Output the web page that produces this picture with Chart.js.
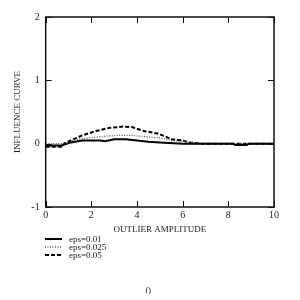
<!DOCTYPE html>
<html><head><meta charset="utf-8">
<script src="https://cdn.jsdelivr.net/npm/chart.js@4/dist/chart.umd.min.js"></script>
<style>html,body{margin:0;padding:0;background:#fff}#w{position:relative;width:300px;height:300px}</style>
</head><body><div id="w"><canvas id="c" width="300" height="300"></canvas></div>
<script>
const seriesLabels = ['eps=0.01', 'eps=0.025', 'eps=0.05'];
const xTicks = [0, 2, 4, 6, 8, 10];
const yTicks = [-1, 0, 1, 2];
const eps001 = [[0,-0.03],[0.7,-0.03],[1.1,0.02],[1.6,0.05],[2.4,0.05],[2.6,0.04],[3.0,0.07],[3.5,0.07],[4.0,0.05],[4.5,0.03],[5.0,0.02],[6.0,0.0],[8.2,0.0],[8.3,-0.02],[8.8,-0.02],[8.9,0.0],[10,0.0]];
const eps0025 = [[0,0.0],[1.0,0.0],[1.1,0.04],[1.6,0.08],[2.4,0.11],[3.1,0.13],[3.8,0.13],[4.4,0.11],[5.0,0.09],[5.5,0.05],[6.2,0.03],[6.8,0.0],[10,0.0]];
const eps005 = [[0,-0.05],[0.7,-0.05],[0.8,0.0],[1.1,0.05],[1.6,0.13],[2.2,0.2],[2.8,0.25],[3.4,0.27],[3.8,0.26],[4.3,0.2],[4.9,0.16],[5.2,0.12],[5.5,0.07],[6.0,0.05],[6.3,0.02],[6.8,0.0],[10,0.0]];
const caption = 'f)';
const xTitle = 'OUTLIER AMPLITUDE';
const yTitle = 'INFLUENCE CURVE';

const FONT = "'Liberation Serif', 'DejaVu Serif', serif";
const toPts = a => a.map(p => ({x:p[0], y:p[1]}));

const framePlugin = {
  id:'frame',
  afterDatasetsDraw(chart){
    const {ctx, chartArea:a, scales:{x,y}} = chart;
    ctx.save();
    ctx.strokeStyle = '#111';
    ctx.lineWidth = 1.5;
    ctx.setLineDash([]);
    ctx.strokeRect(a.left, a.top, a.right-a.left, a.bottom-a.top);
    ctx.lineWidth = 1;
    const L = 6;
    ctx.beginPath();
    xTicks.forEach(v => { const px = Math.round(x.getPixelForValue(v))+0.5;
      ctx.moveTo(px, a.bottom); ctx.lineTo(px, a.bottom-L);
      ctx.moveTo(px, a.top); ctx.lineTo(px, a.top+L); });
    yTicks.forEach(v => { const py = Math.round(y.getPixelForValue(v))+0.5;
      ctx.moveTo(a.left, py); ctx.lineTo(a.left+L, py);
      ctx.moveTo(a.right, py); ctx.lineTo(a.right-L, py); });
    ctx.stroke();
    // legend
    ctx.font = "9px " + FONT;
    ctx.textBaseline = 'middle';
    chart.data.datasets.forEach((d,i) => {
      const ly = 239 + i*8;
      ctx.strokeStyle = d.borderColor; ctx.lineWidth = d.borderWidth;
      ctx.setLineDash(d.borderDash || []);
      ctx.beginPath(); ctx.moveTo(45, ly); ctx.lineTo(62, ly); ctx.stroke();
      ctx.setLineDash([]);
      ctx.fillStyle = '#222';
      ctx.fillText(d.label, 69, ly + 1);
    });
    ctx.font = "9px " + FONT;
    ctx.textAlign = 'center';
    ctx.fillText(caption, 148, 291);
    ctx.restore();
  }
};

new Chart(document.getElementById('c'), {
  type:'line',
  data:{datasets:[
    {label:seriesLabels[0], data:toPts(eps001), borderColor:'#000', borderWidth:2, borderDash:[], pointRadius:0, fill:false, tension:0},
    {label:seriesLabels[1], data:toPts(eps0025), borderColor:'#555', borderWidth:1.3, borderDash:[1,1.5], pointRadius:0, fill:false, tension:0},
    {label:seriesLabels[2], data:toPts(eps005), borderColor:'#000', borderWidth:2, borderDash:[4,2], pointRadius:0, fill:false, tension:0}
  ]},
  options:{
    responsive:false, animation:false,
    layout:{padding:{left:0, top:17, right:26, bottom:65}},
    plugins:{legend:{display:false}, tooltip:{enabled:false}},
    scales:{
      x:{type:'linear', min:0, max:10,
        afterFit(s){ s.height = 28; },
        grid:{display:false, drawTicks:false}, border:{display:false},
        ticks:{stepSize:2, padding:2, color:'#222', font:{family:FONT, size:10}, maxRotation:0},
        title:{display:true, text:xTitle, color:'#222', font:{family:FONT, size:9}, padding:{top:1, bottom:0}}},
      y:{type:'linear', min:-1, max:2,
        afterFit(s){ s.width = 45.7; },
        grid:{display:false, drawTicks:false}, border:{display:false},
        ticks:{stepSize:1, padding:6, color:'#222', font:{family:FONT, size:10}},
        title:{display:true, text:yTitle, color:'#222', font:{family:FONT, size:9}, padding:{top:12, bottom:0}}}
    }
  },
  plugins:[framePlugin]
});
</script></body></html>
